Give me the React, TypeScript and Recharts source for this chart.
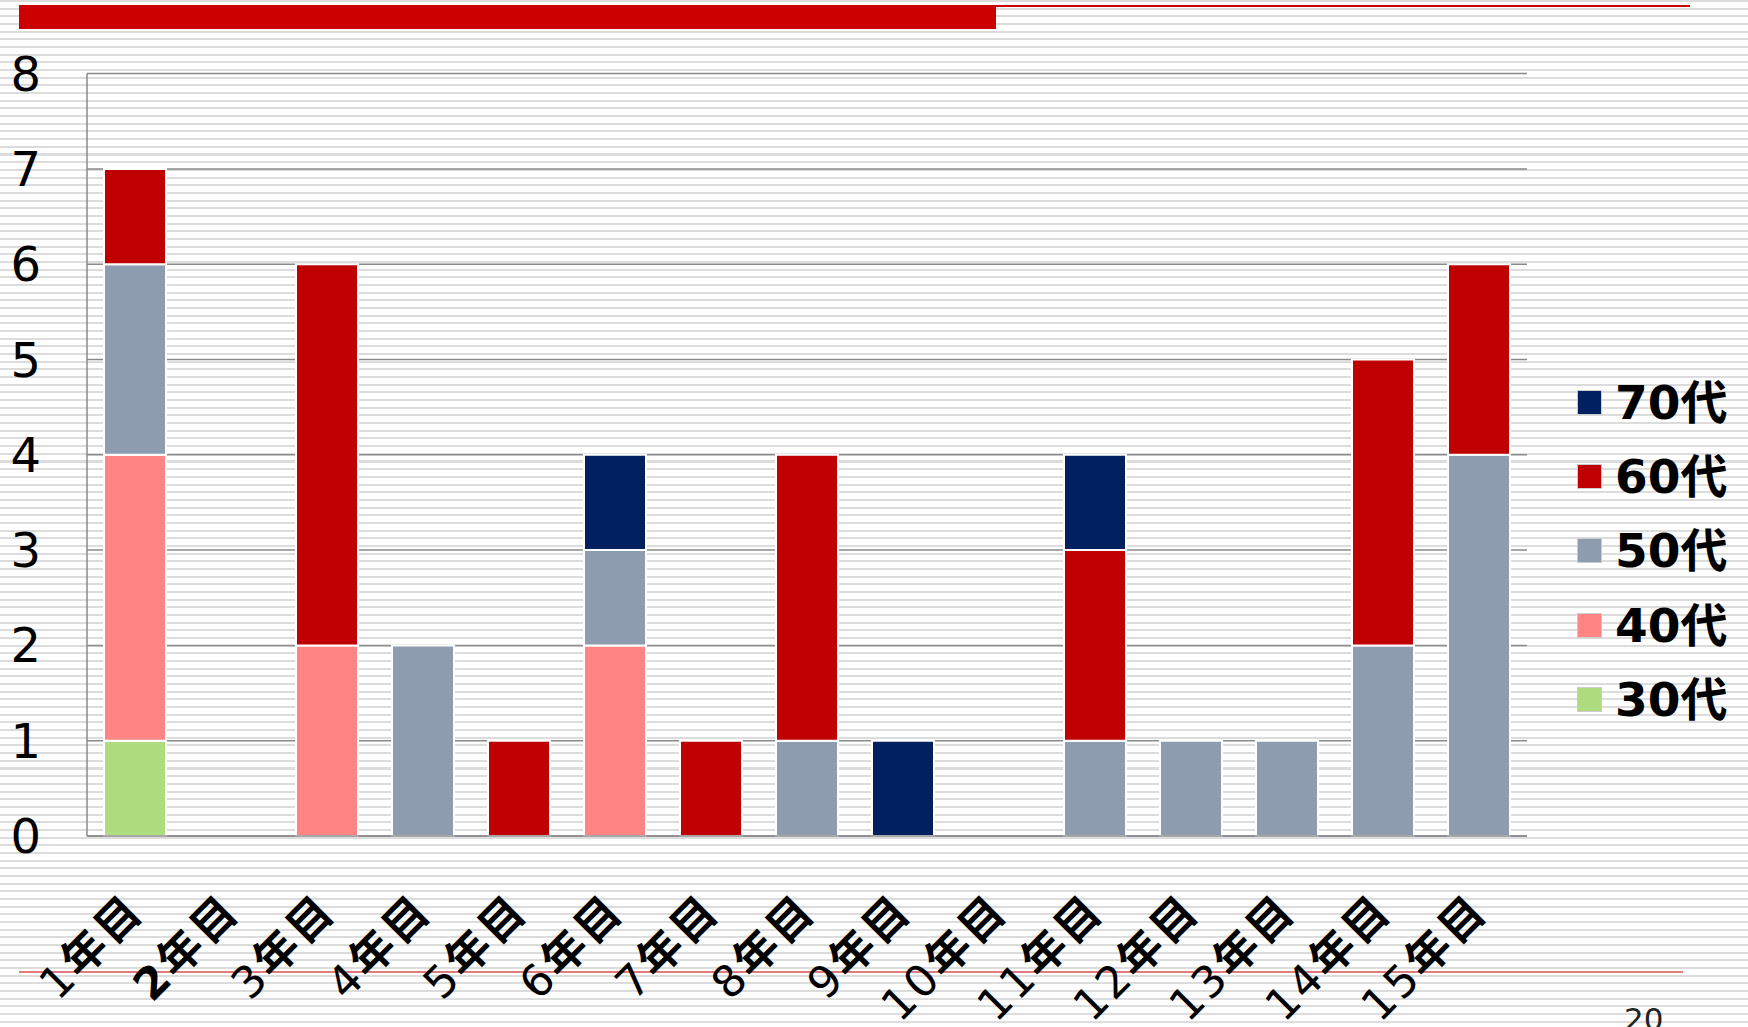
import React from 'react';
import { BarChart, Bar, XAxis, YAxis, CartesianGrid, Legend } from 'recharts';

const categories = ['1年目', '2年目', '3年目', '4年目', '5年目', '6年目', '7年目', '8年目', '9年目', '10年目', '11年目', '12年目', '13年目', '14年目', '15年目'];
const age30 = [1, 0, 0, 0, 0, 0, 0, 0, 0, 0, 0, 0, 0, 0, 0];
const age40 = [3, 0, 2, 0, 0, 2, 0, 0, 0, 0, 0, 0, 0, 0, 0];
const age50 = [2, 0, 0, 2, 0, 1, 0, 1, 0, 0, 1, 1, 1, 2, 4];
const age60 = [1, 0, 4, 0, 1, 0, 1, 3, 0, 0, 2, 0, 0, 3, 2];
const age70 = [0, 0, 0, 0, 0, 1, 0, 0, 1, 0, 1, 0, 0, 0, 0];
const yTicks = [0, 1, 2, 3, 4, 5, 6, 7, 8];
// in the original slide the "2" of 2年目 is set in bold
const boldDigitLabels = ['2年目'];

const SERIES = [
  { key: 'a30', name: '30代', color: '#B0DC80', values: age30 },
  { key: 'a40', name: '40代', color: '#FF8585', values: age40 },
  { key: 'a50', name: '50代', color: '#8E9CB0', values: age50 },
  { key: 'a60', name: '60代', color: '#C00000', values: age60 },
  { key: 'a70', name: '70代', color: '#002060', values: age70 },
];

const data = categories.map((name, i) => {
  const row: any = { name };
  SERIES.forEach((s) => { row[s.key] = s.values[i]; });
  return row;
});

const W = 1748;
const H = 1027;
const PLOT_BOTTOM = 836;
const FONT = "'DejaVu Sans', 'Noto Sans CJK JP', sans-serif";

const YTick = ({ y, payload }: any) => (
  <text x={41} y={y + 17} textAnchor="end" fontSize={48} fontFamily={FONT} fill="#000">
    {payload.value}
  </text>
);

const XTick = ({ x, payload }: any) => {
  const tx = x;
  const ty = PLOT_BOTTOM + 66;
  const label: string = payload.value;
  const num = label.replace('年目', '');
  return (
    <text
      x={tx}
      y={ty}
      textAnchor="end"
      dominantBaseline="central"
      fontSize={44}
      letterSpacing={3}
      fontFamily={FONT}
      fill="#000"
      transform={`rotate(-45 ${tx} ${ty})`}
    >
      <tspan fontWeight={boldDigitLabels.includes(label) ? 'bold' : 'normal'}>{num}</tspan>
      <tspan fontWeight="bold">年目</tspan>
    </text>
  );
};

const renderLegend = () => (
  <div style={{ fontFamily: FONT }}>
    {[...SERIES].reverse().map((s) => (
      <div key={s.key} style={{ display: 'flex', alignItems: 'center', height: 74.3 }}>
        <div style={{ width: 23, height: 23, background: s.color, border: '1px solid #ccc', marginRight: 13 }} />
        <span style={{ fontSize: 47, fontWeight: 'bold', color: '#000', lineHeight: '47px' }}>{s.name}</span>
      </div>
    ))}
  </div>
);

export default function App() {
  return (
    <div
      style={{
        position: 'absolute',
        left: 0,
        top: 0,
        width: W,
        height: H,
        overflow: 'hidden',
        background: 'repeating-linear-gradient(to bottom, #dcdcdc 0px, #dcdcdc 2px, #ffffff 2px, #ffffff 7.675px)',
      }}
    >
      {/* slide decorations */}
      <div style={{ position: 'absolute', left: 19, top: 5, width: 1671, height: 2, background: '#CC0000' }} />
      <div style={{ position: 'absolute', left: 19, top: 5, width: 977, height: 24, background: '#CC0000' }} />
      <div style={{ position: 'absolute', left: 19, top: 971, width: 1664, height: 2, background: '#E07B7B' }} />
      <div style={{ position: 'absolute', left: 1624, top: 1004, fontSize: 31, lineHeight: '31px', fontFamily: FONT, color: '#222' }}>20</div>

      <div style={{ position: 'absolute', left: 0, top: 0 }}>
        <BarChart width={W} height={H} data={data} margin={{ top: 73.6, right: 221, left: 0, bottom: 0 }} barSize={62}>
          <CartesianGrid vertical={false} stroke="#8a8a8a" strokeWidth={1.5} />
          <XAxis
            dataKey="name"
            height={191}
            interval={0}
            tickLine={false}
            axisLine={{ stroke: '#8a8a8a', strokeWidth: 1.5 }}
            tick={<XTick />}
          />
          <YAxis
            domain={[0, 8]}
            ticks={yTicks}
            width={87}
            tickLine={false}
            axisLine={{ stroke: '#8a8a8a', strokeWidth: 1.5 }}
            tick={<YTick />}
          />
          <Legend
            layout="vertical"
            align="center"
            verticalAlign="middle"
            content={renderLegend}
            wrapperStyle={{ left: 1577, top: 365, width: 171, height: 372 }}
          />
          {SERIES.map((s) => (
            <Bar key={s.key} dataKey={s.key} name={s.name} stackId="a" fill={s.color} stroke="#ffffff" strokeWidth={2} isAnimationActive={false} />
          ))}
        </BarChart>
      </div>
    </div>
  );
}
